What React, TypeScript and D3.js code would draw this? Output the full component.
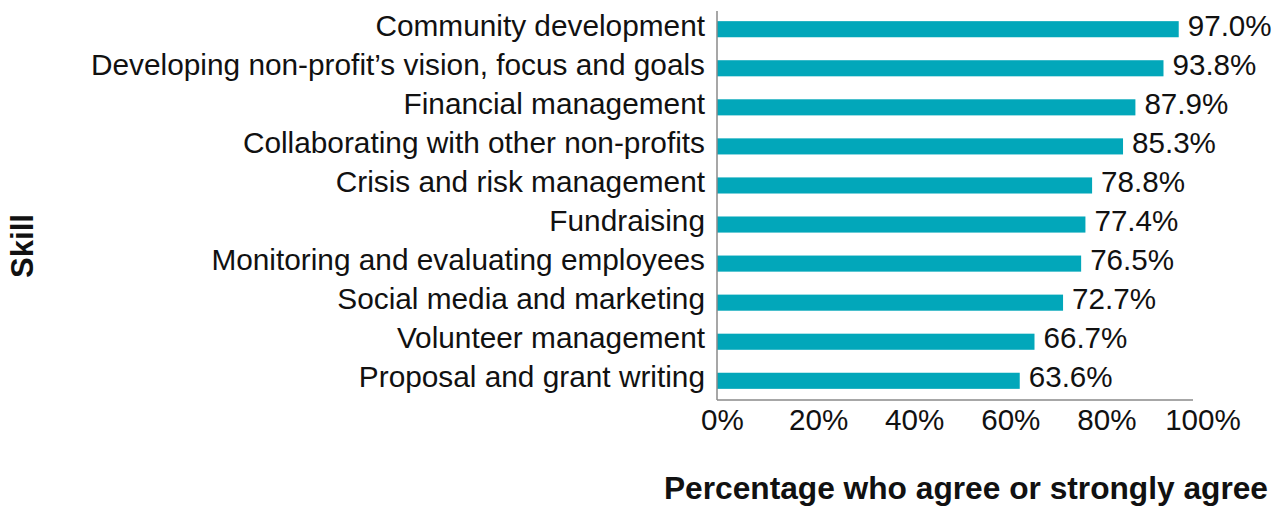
import React from "react";
import * as d3 from "d3";

const categories = [
  "Community development",
  "Developing non-profit’s vision, focus and goals",
  "Financial management",
  "Collaborating with other non-profits",
  "Crisis and risk management",
  "Fundraising",
  "Monitoring and evaluating employees",
  "Social media and marketing",
  "Volunteer management",
  "Proposal and grant writing",
];
const values = [97.0, 93.8, 87.9, 85.3, 78.8, 77.4, 76.5, 72.7, 66.7, 63.6];
const tickValues = [0, 20, 40, 60, 80, 100];
const tickLabels = ["0%", "20%", "40%", "60%", "80%", "100%"];
const xTitle = "Percentage who agree or strongly agree";
const yTitle = "Skill";

const W = 1281;
const H = 508;
const FONT = "'Liberation Sans', Arial, Helvetica, sans-serif";
const BAR = "#02a7ba";

export default function App() {
  const x = d3.scaleLinear().domain([0, 100]).range([717, 1193]);
  const xLab = d3.scaleLinear().domain([0, 100]).range([722.5, 1203]);
  const y = d3
    .scaleBand<string>()
    .domain(categories)
    .range([11, 399])
    .paddingInner(0.588)
    .paddingOuter(0.26);
  const bw = y.bandwidth();
  return (
    <svg
      width={W}
      height={H}
      style={{ position: "absolute", left: 0, top: 0, background: "#fff" }}
      fontFamily={FONT}
    >
      {categories.map((c, i) => {
        const yy = y(c)!;
        const cy = yy + bw / 2;
        return (
          <g key={c}>
            <rect x={x(0)} y={yy} width={x(values[i]) - x(0)} height={bw} fill={BAR} />
            <text x={705} y={cy + 6.5} textAnchor="end" fontSize={29.8} fill="#111">
              {c}
            </text>
            <text x={x(values[i]) + 9} y={cy + 6.5} fontSize={29.6} fill="#111">
              {values[i].toFixed(1) + "%"}
            </text>
          </g>
        );
      })}
      <line x1={x(0)} x2={x(0)} y1={11} y2={400} stroke="#8a8a8a" strokeWidth={1.5} />
      <line x1={x(0)} x2={x(100)} y1={400} y2={400} stroke="#8a8a8a" strokeWidth={1.5} />
      {tickValues.map((v, i) => (
        <text key={v} x={xLab(v)} y={430} textAnchor="middle" fontSize={29.6} fill="#111">
          {tickLabels[i]}
        </text>
      ))}
      <text x={1268} y={499} textAnchor="end" fontSize={31.7} fontWeight="bold" fill="#111">
        {xTitle}
      </text>
      <text
        transform="translate(33,246) rotate(-90)"
        textAnchor="middle"
        fontSize={31}
        fontWeight="bold"
        fill="#111"
      >
        {yTitle}
      </text>
    </svg>
  );
}
